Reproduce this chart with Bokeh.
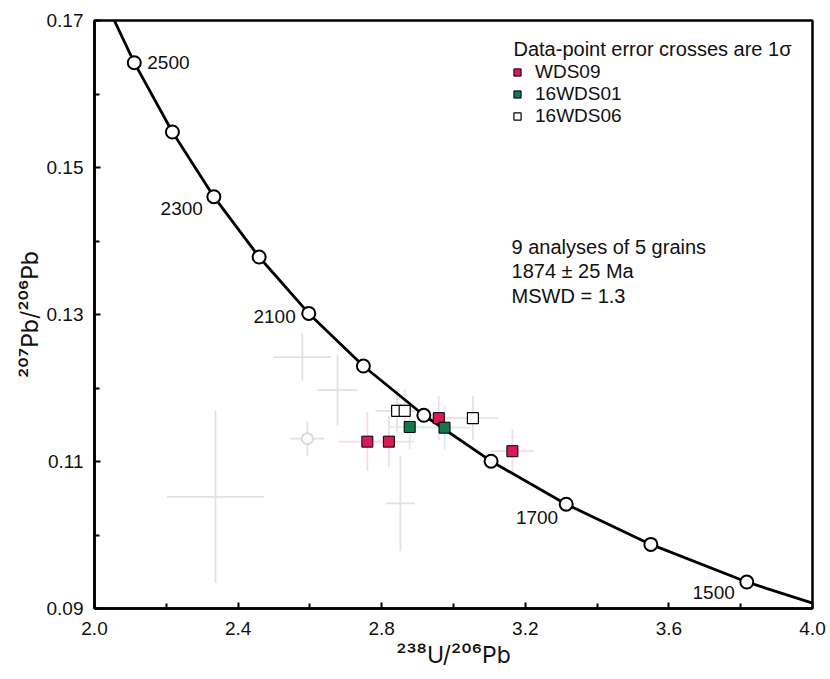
from bokeh.plotting import figure
from bokeh.models import (ColumnDataSource, FixedTicker, NumeralTickFormatter,
                          Legend, LegendItem)
from bokeh.embed import file_html
from bokeh.resources import INLINE
from bokeh.core.properties import value

FONT = "Liberation Sans"
TITLE_FONT = "Inter"

# ---------------- data ----------------
# Concordia age markers (Ma) and their Tera-Wasserburg coordinates
ages = [1500, 1600, 1700, 1800, 1900, 2000, 2100, 2200, 2300, 2400, 2500]
conc_x = [3.8170, 3.5497, 3.3139, 3.1046, 2.9174, 2.7490, 2.5968, 2.4586, 2.3325, 2.2170, 2.1108]
conc_y = [0.09360, 0.09872, 0.10419, 0.11004, 0.11629, 0.12299, 0.13015, 0.13782, 0.14603, 0.15483, 0.16426]
# curve continues beyond the frame (1400 Ma and 2600 Ma)
curve_x = [4.1227] + conc_x + [2.0129]
curve_y = [0.08881] + conc_y + [0.17437]

labelled_ages = [2500, 2300, 2100, 1700, 1500]

# WDS09
red_x = [2.760, 2.820, 2.959, 3.164]
red_y = [0.1127, 0.1127, 0.1159, 0.1114]
red_xerr = [0.08, 0.07, 0.06, 0.06]
red_yerr = [0.0040, 0.0035, 0.0030, 0.0030]
# 16WDS01
green_x = [2.878, 2.975]
green_y = [0.1147, 0.1146]
green_xerr = [0.06, 0.07]
green_yerr = [0.0030, 0.0030]
# 16WDS06
open_x = [2.843, 2.864, 3.054]
open_y = [0.1169, 0.1169, 0.1159]
open_xerr = [0.06, 0.05, 0.07]
open_yerr = [0.0030, 0.0030, 0.0030]
# excluded analyses (faint grey)
excl_x = [2.337, 2.579, 2.677, 2.593, 2.852]
excl_y = [0.1052, 0.1242, 0.1197, 0.1131, 0.1043]
excl_xerr = [0.135, 0.08, 0.056, 0.047, 0.04]
excl_yerr = [0.0117, 0.0032, 0.0048, 0.0023, 0.0065]

x_ticks = [2.0, 2.4, 2.8, 3.2, 3.6, 4.0]
x_minor = [2.2, 2.6, 3.0, 3.4, 3.8]
y_ticks = [0.09, 0.11, 0.13, 0.15, 0.17]
y_minor = [0.10, 0.12, 0.14, 0.16]

x_title = "\u00b2\u00b3\u2078U/\u00b2\u2070\u2076Pb"
y_title = "\u00b2\u2070\u2077Pb/\u00b2\u2070\u2076Pb"

stats_lines = ["9 analyses of 5 grains", "1874 \u00b1 25 Ma", "MSWD = 1.3"]
legend_title = "Data-point error crosses are 1\u03c3"

# ---------------- figure ----------------
p = figure(width=830, height=679, x_range=(2.0, 4.0), y_range=(0.09, 0.17),
           output_backend="svg", toolbar_location=None,
           min_border_left=94, min_border_right=18, min_border_top=20, min_border_bottom=71)
p.xgrid.visible = False
p.ygrid.visible = False
p.outline_line_color = "black"
p.outline_line_width = 2.5
p.background_fill_color = "white"
p.border_fill_color = "white"

for ax, tk, mn, fmt in ((p.xaxis, x_ticks, x_minor, "0.0"), (p.yaxis, y_ticks, y_minor, "0.00")):
    ax.ticker = FixedTicker(ticks=tk, minor_ticks=mn)
    ax.formatter = NumeralTickFormatter(format=fmt)
    ax.major_tick_in = 6
    ax.major_tick_out = 0
    ax.minor_tick_in = 5
    ax.minor_tick_out = 0
    ax.major_tick_line_width = 2
    ax.minor_tick_line_width = 2
    ax.axis_line_width = 2.5
    ax.major_label_text_font = FONT
    ax.major_label_text_font_size = "19px"
    ax.major_label_text_color = "#111111"
    ax.axis_label_text_font = TITLE_FONT
    ax.axis_label_text_font_style = "normal"
    ax.axis_label_text_font_size = "23px"
    ax.axis_label_text_color = "#111111"

p.xaxis.axis_label = x_title
p.yaxis.axis_label = y_title
p.xaxis.major_label_standoff = 13
p.xaxis.axis_label_standoff = 3
p.yaxis.major_label_standoff = 11
p.yaxis.axis_label_standoff = 0


def cross_source(xs, ys, xe, ye):
    return ColumnDataSource(dict(
        x=xs, y=ys,
        x0=[a - b for a, b in zip(xs, xe)], x1=[a + b for a, b in zip(xs, xe)],
        y0=[a - b for a, b in zip(ys, ye)], y1=[a + b for a, b in zip(ys, ye)]))


def draw_cross(src, color):
    p.segment(x0="x0", y0="y", x1="x1", y1="y", source=src, line_color=color, line_width=1.8)
    p.segment(x0="x", y0="y0", x1="x", y1="y1", source=src, line_color=color, line_width=1.8)


draw_cross(cross_source(excl_x, excl_y, excl_xerr, excl_yerr), "#e2e2e2")
draw_cross(cross_source(red_x, red_y, red_xerr, red_yerr), "#f7dbe5")
draw_cross(cross_source(green_x, green_y, green_xerr, green_yerr), "#d8f0e6")
draw_cross(cross_source(open_x, open_y, open_xerr, open_yerr), "#e4e4e4")

# faint open marker of one excluded analysis
p.scatter(x=[excl_x[3]], y=[excl_y[3]], marker="circle", size=11,
          fill_color="white", line_color="#dadada", line_width=2)

# concordia curve and age markers
p.line(curve_x, curve_y, line_color="black", line_width=2.8)
p.scatter(conc_x, conc_y, marker="circle", size=13, fill_color="white",
          line_color="black", line_width=2)

# age labels
lab_idx = [ages.index(a) for a in labelled_ages]
lab_src = ColumnDataSource(dict(
    x=[conc_x[i] for i in lab_idx], y=[conc_y[i] for i in lab_idx],
    text=[str(a) for a in labelled_ages],
    align=["left", "right", "right", "right", "right"],
    dx=[13, -11, -13, -8, -12], dy=[0, 12, 3, 13, 10]))
p.text(x="x", y="y", text="text", source=lab_src, text_align="align",
       text_baseline="middle", x_offset="dx", y_offset="dy",
       text_font=value(FONT), text_font_size="19px", text_color="#111111")

# data points
r_red = p.scatter(red_x, red_y, marker="square", size=11, fill_color="#d81b57",
                  line_color="black", line_width=1)
r_green = p.scatter(green_x, green_y, marker="square", size=11, fill_color="#15774c",
                    line_color="black", line_width=1)
r_open = p.scatter(open_x, open_y, marker="square", size=11, fill_color="white",
                   line_color="black", line_width=1.2)

# legend title and legend
p.text(x=[3.1671], y=[0.16619], text=[legend_title], text_align="left",
       text_baseline="middle", text_font=value(FONT), text_font_size="20px",
       text_color="#111111")
legend = Legend(items=[LegendItem(label="WDS09", renderers=[r_red]),
                       LegendItem(label="16WDS01", renderers=[r_green]),
                       LegendItem(label="16WDS06", renderers=[r_open])],
                location=(413, 481), glyph_width=20, glyph_height=18, label_height=18,
                label_standoff=8, spacing=0, padding=0, margin=0,
                border_line_color=None, background_fill_alpha=0,
                label_text_font=FONT, label_text_font_size="19px", label_text_color="#111111")
p.add_layout(legend)

# statistics text
p.text(x=[3.1616] * 3, y=[0.1392] * 3, text=stats_lines, y_offset=[0, 24.5, 49],
       text_align="left", text_baseline="middle", text_font=value(FONT),
       text_font_size="20px", text_color="#111111")

open("out.html", "w").write(file_html(p, INLINE))
